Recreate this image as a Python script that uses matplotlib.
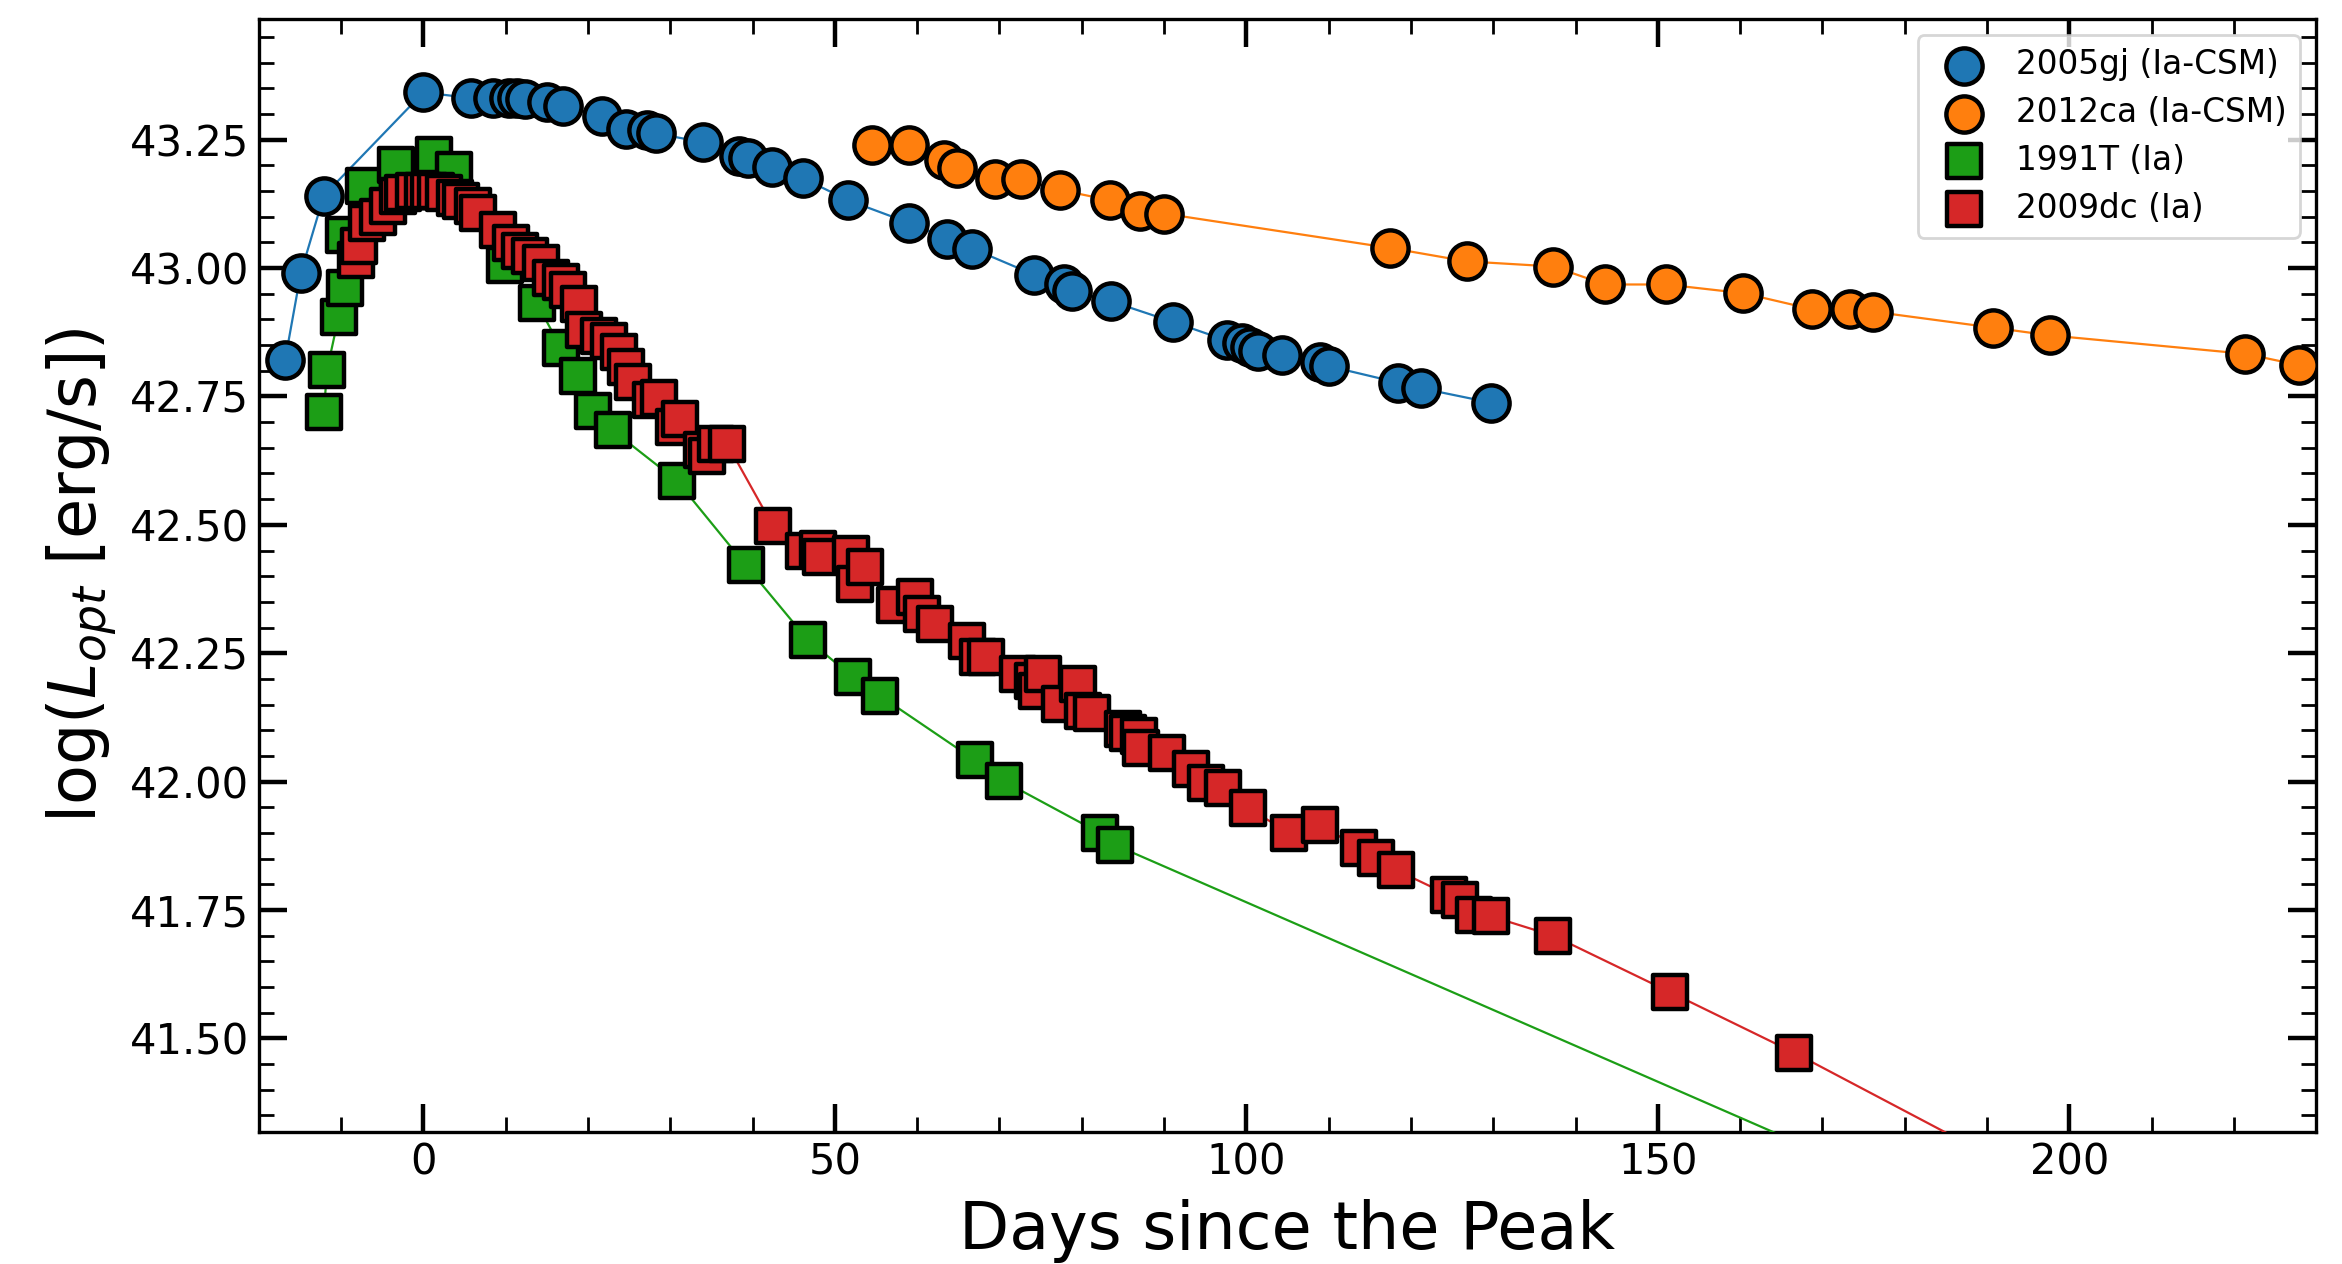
import matplotlib
matplotlib.use("Agg")
import matplotlib.pyplot as plt
from matplotlib.ticker import MultipleLocator

# SN 2005gj (Ia-CSM)
days_05gj = [-16.8, -14.9, -12.1, 0.0, 5.8, 8.5, 10.4, 11.4, 12.3, 15.0, 17.0, 21.7,
             24.6, 27.2, 28.3, 34.0, 38.3, 39.5, 42.3, 46.1, 51.6, 59.0, 63.6, 66.7,
             74.2, 77.9, 78.8, 83.6, 91.1, 97.6, 99.5, 100.4, 101.4, 104.3, 108.9,
             110.0, 118.4, 121.2, 129.7]
logL_05gj = [42.821, 42.990, 43.141, 43.342, 43.331, 43.331, 43.331, 43.331, 43.330,
             43.323, 43.315, 43.297, 43.270, 43.268, 43.262, 43.245, 43.219, 43.214,
             43.197, 43.175, 43.132, 43.088, 43.057, 43.038, 42.987, 42.968, 42.956,
             42.935, 42.895, 42.859, 42.854, 42.846, 42.839, 42.831, 42.818, 42.809,
             42.777, 42.766, 42.738]

# SN 2012ca (Ia-CSM)
days_12ca = [54.5, 59.0, 63.3, 64.8, 69.4, 72.6, 77.4, 83.4, 87.1, 90.0, 117.5, 126.8,
             137.3, 143.6, 151.0, 160.4, 168.7, 173.4, 176.2, 190.7, 197.6, 221.4, 227.9]
logL_12ca = [43.240, 43.240, 43.210, 43.194, 43.173, 43.173, 43.152, 43.132, 43.111,
             43.106, 43.039, 43.013, 43.003, 42.968, 42.968, 42.951, 42.920, 42.920,
             42.915, 42.884, 42.869, 42.833, 42.811]

# SN 1991T (Ia)
days_91T = [-12.1, -11.7, -10.3, -9.5, -9.7, -7.2, -3.3, 1.3, 3.7, 9.9, 13.8, 16.7,
            18.8, 20.6, 23.0, 30.8, 39.2, 46.7, 52.2, 55.5, 67.0, 70.5, 82.2, 84.0,
            180.0]
logL_91T = [42.719, 42.802, 42.905, 42.961, 43.065, 43.160, 43.200, 43.220, 43.190,
            43.005, 42.931, 42.845, 42.789, 42.722, 42.684, 42.586, 42.421, 42.276,
            42.204, 42.167, 42.042, 42.001, 41.900, 41.877, 41.206]

# SN 2009dc (Ia)
days_09dc = [-8.2, -7.8, -6.8, -5.5, -4.3, -3.1, -2.5, -1.1, -0.1, 0.7, 1.5, 2.5, 3.8,
             4.6, 6.0, 6.6, 9.1, 10.6, 11.8, 13.0, 14.3, 15.5, 16.7, 17.6, 18.9, 19.5,
             21.3, 22.6, 23.8, 24.6, 25.5, 27.6, 28.6, 30.4, 31.2, 33.9, 34.5, 35.5,
             36.9, 42.5, 46.2, 48.0, 48.3, 51.9, 52.5, 53.7, 57.3, 59.7, 60.6, 62.2,
             66.0, 67.4, 68.4, 72.3, 74.1, 74.5, 75.3, 77.3, 79.6, 80.2, 81.2, 85.0,
             85.6, 87.0, 87.2, 90.3, 93.3, 95.1, 97.2, 100.2, 105.2, 108.9, 113.7,
             115.7, 118.2, 124.6, 125.9, 127.7, 129.7, 137.3, 151.5, 166.6, 200.0]
logL_09dc = [43.016, 43.042, 43.088, 43.100, 43.120, 43.140, 43.146, 43.150, 43.150,
             43.150, 43.150, 43.147, 43.137, 43.130, 43.120, 43.107, 43.075, 43.049,
             43.033, 43.023, 43.010, 42.980, 42.973, 42.958, 42.930, 42.880, 42.867,
             42.857, 42.837, 42.808, 42.779, 42.743, 42.747, 42.691, 42.707, 42.645,
             42.635, 42.658, 42.658, 42.497, 42.450, 42.453, 42.437, 42.444, 42.385,
             42.417, 42.343, 42.359, 42.326, 42.307, 42.274, 42.242, 42.242, 42.209,
             42.196, 42.177, 42.209, 42.151, 42.190, 42.138, 42.134, 42.102, 42.095,
             42.089, 42.066, 42.056, 42.024, 41.997, 41.988, 41.949, 41.900, 41.916,
             41.871, 41.851, 41.828, 41.779, 41.770, 41.741, 41.738, 41.700, 41.590,
             41.472, 41.190]

series = [
    (days_05gj, logL_05gj, "2005gj (Ia-CSM)", "#1f77b4", "o", 170),
    (days_12ca, logL_12ca, "2012ca (Ia-CSM)", "#ff7f0e", "o", 170),
    (days_91T, logL_91T, "1991T (Ia)", "#1c9e16", "s", 150),
    (days_09dc, logL_09dc, "2009dc (Ia)", "#d62728", "s", 150),
]

fig = plt.figure(figsize=(11.71, 6.32), dpi=200)
ax = fig.add_axes([0.1105, 0.1045, 0.8785, 0.8805])

for i, (x, y, label, color, marker, size) in enumerate(series):
    ax.plot(x, y, color=color, lw=0.8, zorder=1 + i)
    ax.scatter(x, y, s=size, marker=marker, facecolor=color, edgecolor="black",
               linewidths=1.6, label=label, zorder=5 + i)

ax.set_xlim(-20, 230)
ax.set_ylim(41.318, 43.485)
ax.xaxis.set_major_locator(MultipleLocator(50))
ax.xaxis.set_minor_locator(MultipleLocator(10))
ax.yaxis.set_major_locator(MultipleLocator(0.25))
ax.yaxis.set_minor_locator(MultipleLocator(0.05))
ax.tick_params(which="both", direction="in", top=True, right=True, labelsize=15)
ax.tick_params(which="major", length=10, width=1.6)
ax.tick_params(which="minor", length=5.5, width=1.0)
for sp in ax.spines.values():
    sp.set_linewidth(1.2)

ax.set_xlabel("Days since the Peak", fontsize=23.5, labelpad=5.5)
ax.set_ylabel(r"log($L_{opt}$ [erg/s])", fontsize=23.5)
ax.legend(loc="upper right", fontsize=11.8, scatterpoints=1, borderpad=0.4,
          labelspacing=0.45, handletextpad=0.6)

fig.savefig("out.png", dpi=200)
